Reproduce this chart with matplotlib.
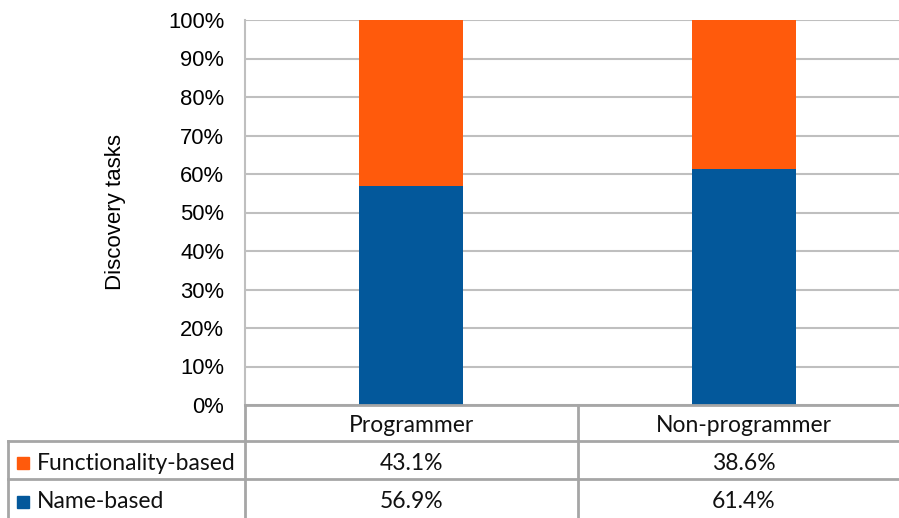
import matplotlib.pyplot as plt
import matplotlib.transforms as mtransforms
from matplotlib.lines import Line2D
from matplotlib.patches import Rectangle
import numpy as np

categories = ['Programmer', 'Non-programmer']
series_names = ['Functionality-based', 'Name-based']
functionality = [43.1, 38.6]
name_based = [56.9, 61.4]
yticks = [0, 10, 20, 30, 40, 50, 60, 70, 80, 90, 100]

orange = '#FF5A0C'
blue = '#03589B'
grid_col = '#BFBFBF'
line_col = '#A6A6A6'

W, H = 899, 518
fig = plt.figure(figsize=(W / 100, H / 100), dpi=100)


def fx(px):
    return px / W


def fy(py):
    return 1 - py / H


# plot area: left 245px, top 20px, bottom 405px, runs past the right edge
ax = fig.add_axes([fx(245), fy(405), fx(910) - fx(245), fy(20) - fy(405)])
x = np.arange(len(categories))
ax.bar(x, name_based, width=0.313, color=blue, zorder=3)
ax.bar(x, functionality, width=0.313, bottom=name_based, color=orange, zorder=3)
ax.set_xlim(-0.5, 1.5)
ax.set_ylim(0, 100)
ax.set_yticks(yticks)
ax.set_yticklabels([f'{t}%' for t in yticks], fontsize=15.8, family='Liberation Sans')
ax.tick_params(axis='y', length=0, pad=15)
ax.set_xticks([])
ax.grid(axis='y', color=grid_col, linewidth=1.5, zorder=0)
for s in ['top', 'right', 'bottom']:
    ax.spines[s].set_visible(False)
ax.spines['left'].set_color(grid_col)
ax.spines['left'].set_linewidth(1.5)
ax.set_ylabel('Discovery tasks', fontsize=16, family='Liberation Sans', labelpad=30)

# data table under the plot
tfont = dict(family=['Lato', 'DejaVu Sans'], fontsize=16.5, color='#111111')


def hline(y, x0, x1):
    fig.add_artist(Line2D([fx(x0), fx(x1)], [fy(y), fy(y)], color=line_col, lw=2))


def vline(xp, y0, y1):
    fig.add_artist(Line2D([fx(xp), fx(xp)], [fy(y0), fy(y1)], color=line_col, lw=2))


hline(405, 245, 910)
hline(441, 8, 910)
hline(479, 8, 910)
vline(8, 441, 520)
vline(245, 405, 520)
vline(578, 405, 520)

col_tr = mtransforms.blended_transform_factory(ax.transData, fig.transFigure)
for i, c in enumerate(categories):
    fig.text(i, fy(426), c, transform=col_tr, ha='center', va='center', **tfont)

rows = [(series_names[0], functionality, orange, 463),
        (series_names[1], name_based, blue, 502)]
for label, vals, col, yc in rows:
    fig.add_artist(Rectangle((fx(17), fy(yc + 6)), fx(12), fy(yc - 6) - fy(yc + 6),
                             color=col, transform=fig.transFigure))
    fig.text(fx(37), fy(yc), label, ha='left', va='center', **tfont)
    for i, v in enumerate(vals):
        fig.text(i, fy(yc), f'{v:.1f}%', transform=col_tr, ha='center', va='center', **tfont)

fig.savefig('out.png', dpi=100)
